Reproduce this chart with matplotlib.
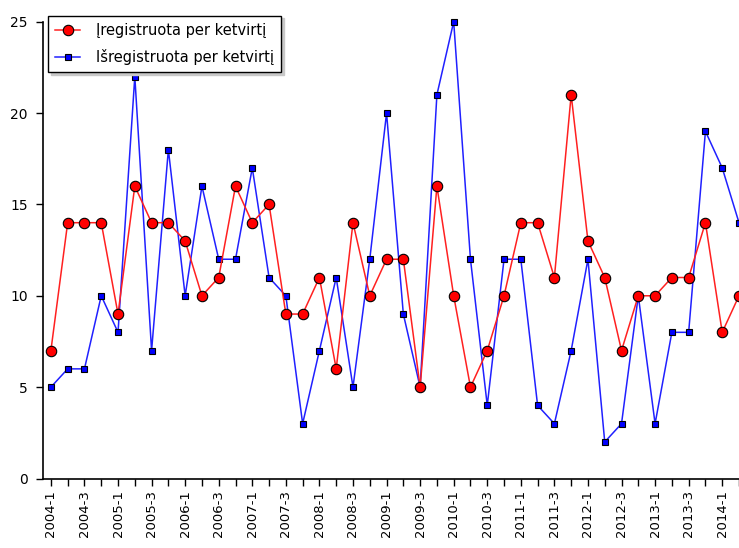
import matplotlib
matplotlib.use('Agg')
import matplotlib.pyplot as plt

# quarters 2004-1 .. 2014-2 (last one falls past the right edge)
quarters = [f'{y}-{q}' for y in range(2004, 2015) for q in range(1, 5)][:42]

registered = [7, 14, 14, 14, 9, 16, 14, 14, 13, 10, 11, 16, 14, 15, 9, 9,
              11, 6, 14, 10, 12, 12, 5, 16, 10, 5, 7, 10, 14, 14, 11, 21,
              13, 11, 7, 10, 10, 11, 11, 14, 8, 10]
deregistered = [5, 6, 6, 10, 8, 22, 7, 18, 10, 16, 12, 12, 17, 11, 10, 3,
                7, 11, 5, 12, 20, 9, 5, 21, 25, 12, 4, 12, 12, 4, 3, 7,
                12, 2, 3, 10, 3, 8, 8, 19, 17, 14]

W, H = 739, 548
y_bottom, y_top = 478.5, 10
fig = plt.figure(figsize=(W / 100, H / 100), dpi=100)
ax = fig.add_axes([43 / W, (H - y_bottom) / H, 1 - 43 / W, (y_bottom - y_top) / H])

x = list(range(len(quarters)))
ax.plot(x, registered, color='#ff2020', lw=1.1, marker='o', ms=7.5,
        mfc='red', mec='black', mew=0.8, label='Įregistruota per ketvirtį', zorder=3)
ax.plot(x, deregistered, color='#2020ff', lw=1.1, marker='s', ms=5,
        mfc='blue', mec='black', mew=0.8, label='Išregistruota per ketvirtį', zorder=2)

ax.set_xlim(-0.47, 40.7)
ax.set_ylim(0, 25 + (21.7 - y_top) / 18.27)
ax.spines['top'].set_visible(False)
ax.spines['right'].set_visible(False)
ax.spines['left'].set_bounds(0, 25)
ax.spines['left'].set_linewidth(1.2)
ax.spines['bottom'].set_linewidth(1.2)

ax.set_yticks([0, 5, 10, 15, 20, 25])
ax.set_xticks(x)
ax.set_xticklabels([q if i % 2 == 0 else '' for i, q in enumerate(quarters)],
                   rotation=90)
ax.tick_params(axis='both', direction='out', length=5, width=1, labelsize=9.5)
ax.tick_params(axis='y', pad=6, labelsize=10)

leg = ax.legend(loc='upper left', bbox_to_anchor=(48 / W, 1 - 15.5 / H),
                bbox_transform=fig.transFigure, borderaxespad=0,
                fancybox=False, shadow={'color': '#c8c8c8', 'alpha': 1},
                edgecolor='black', fontsize=10.5, handlelength=1.7,
                handletextpad=1.1, borderpad=0.5, labelspacing=0.75)
leg.get_frame().set_linewidth(1)

fig.savefig('out.png', dpi=100)
